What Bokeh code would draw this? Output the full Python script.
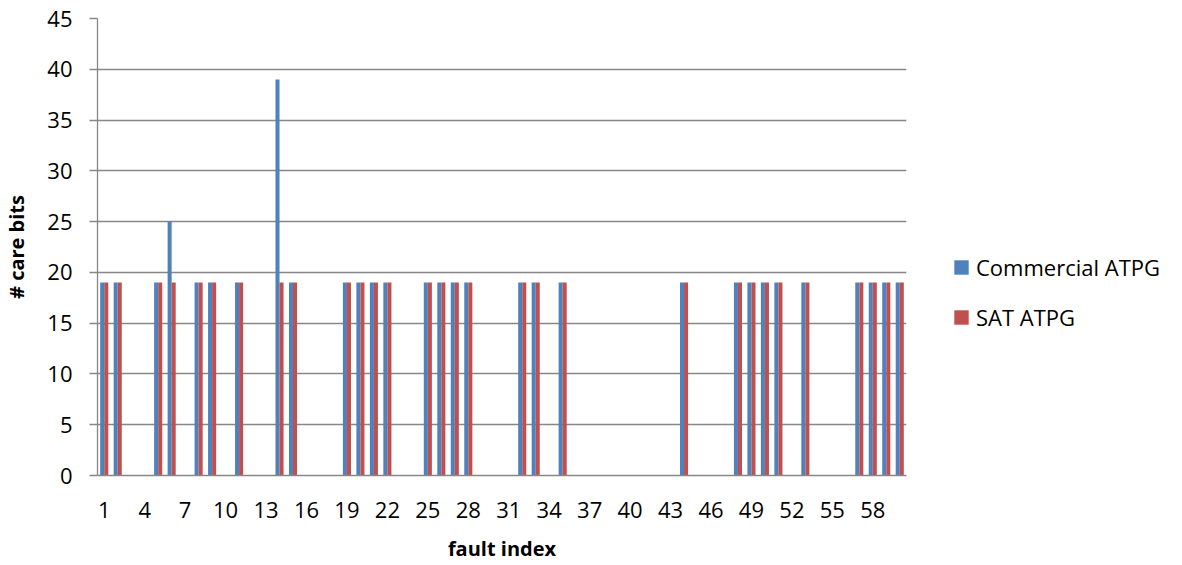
from bokeh.plotting import figure
from bokeh.layouts import row
from bokeh.models import (ColumnDataSource, FixedTicker, Range1d, Legend, LegendItem)
from bokeh.transform import dodge
from bokeh.embed import file_html
from bokeh.resources import INLINE

# number of care bits per fault, fault indices 1..60
fault_index = list(range(1, 61))
commercial_atpg = [19, 19, 0, 0, 19, 25, 0, 19, 19, 0,
                   19, 0, 0, 39, 19, 0, 0, 0, 19, 19,
                   19, 19, 0, 0, 19, 19, 19, 19, 0, 0,
                   0, 19, 19, 0, 19, 0, 0, 0, 0, 0,
                   0, 0, 0, 19, 0, 0, 0, 19, 19, 19,
                   19, 0, 19, 0, 0, 0, 19, 19, 19, 19]
sat_atpg = [19, 19, 0, 0, 19, 19, 0, 19, 19, 0,
            19, 0, 0, 19, 19, 0, 0, 0, 19, 19,
            19, 19, 0, 0, 19, 19, 19, 19, 0, 0,
            0, 19, 19, 0, 19, 0, 0, 0, 0, 0,
            0, 0, 0, 19, 0, 0, 0, 19, 19, 19,
            19, 0, 19, 0, 0, 0, 19, 19, 19, 19]
series_names = ["Commercial ATPG", "SAT ATPG"]
x_ticks = list(range(1, 61, 3))
y_ticks = list(range(0, 46, 5))

FONT = "Open Sans"
BLUE = "#4F81BD"
RED = "#C0504D"
GRID = "#878787"

src = ColumnDataSource(dict(x=fault_index, com=commercial_atpg, sat=sat_atpg))

# main chart
p = figure(width=930, height=565, output_backend="svg", toolbar_location=None,
           x_range=Range1d(0.5, 60.5), y_range=Range1d(0, 45))
p.min_border_left = 95
p.min_border_right = 24
p.min_border_top = 18
p.min_border_bottom = 90
p.outline_line_color = None
p.background_fill_color = "white"
p.border_fill_color = "white"

r_com = p.vbar(x=dodge("x", -0.15, range=p.x_range), top="com", width=0.3,
               bottom=0, source=src, fill_color=BLUE, line_color=None)
r_sat = p.vbar(x=dodge("x", 0.15, range=p.x_range), top="sat", width=0.3,
               bottom=0, source=src, fill_color=RED, line_color=None)

xa = p.xaxis[0]
xa.ticker = FixedTicker(ticks=x_ticks)
xa.axis_label = "fault index"
xa.major_tick_line_color = None
xa.minor_tick_line_color = None
xa.axis_line_color = GRID
xa.axis_line_width = 1.3
xa.major_label_text_font = FONT
xa.major_label_text_font_size = "22px"
xa.major_label_text_color = "black"
xa.major_label_standoff = 20
xa.axis_label_text_font = FONT
xa.axis_label_text_font_style = "bold"
xa.axis_label_text_font_size = "20px"
xa.axis_label_text_color = "black"
xa.axis_label_standoff = 14

ya = p.yaxis[0]
ya.ticker = FixedTicker(ticks=y_ticks)
ya.axis_label = "# care bits"
ya.major_tick_out = 8
ya.major_tick_in = 0
ya.major_tick_line_color = GRID
ya.major_tick_line_width = 1.3
ya.minor_tick_line_color = None
ya.axis_line_color = GRID
ya.axis_line_width = 1.3
ya.major_label_text_font = FONT
ya.major_label_text_font_size = "22px"
ya.major_label_text_color = "black"
ya.major_label_standoff = 17
ya.axis_label_text_font = FONT
ya.axis_label_text_font_style = "bold"
ya.axis_label_text_font_size = "20px"
ya.axis_label_text_color = "black"
ya.axis_label_standoff = 14

p.xgrid.grid_line_color = None
p.ygrid.ticker = FixedTicker(ticks=y_ticks)
p.ygrid.grid_line_color = GRID
p.ygrid.grid_line_width = 1.3

# legend panel to the right of the chart
lg = figure(width=252, height=565, output_backend="svg", toolbar_location=None,
            x_range=Range1d(0, 1), y_range=Range1d(0, 1),
            x_axis_type=None, y_axis_type=None)
lg.min_border = 0
lg.outline_line_color = None
lg.xgrid.grid_line_color = None
lg.ygrid.grid_line_color = None
lg.border_fill_color = "white"
# zero-height keys, only used for the legend swatches
key_src = ColumnDataSource(dict(x=[0.5], top=[0]))
k_com = lg.vbar(x="x", top="top", bottom=0, width=0.1, source=key_src,
                fill_color=BLUE, line_color=None)
k_sat = lg.vbar(x="x", top="top", bottom=0, width=0.1, source=key_src,
                fill_color=RED, line_color=None)

legend = Legend(items=[LegendItem(label=series_names[0], renderers=[k_com]),
                       LegendItem(label=series_names[1], renderers=[k_sat])],
                location=(22, 143), orientation="vertical")
legend.glyph_width = 18
legend.glyph_height = 18
legend.label_standoff = 6
legend.label_text_font = FONT
legend.label_text_font_size = "22px"
legend.label_text_color = "black"
legend.label_height = 18
legend.spacing = 20
legend.padding = 0
legend.margin = 0
legend.border_line_color = None
legend.background_fill_alpha = 0
lg.add_layout(legend, "center")

layout = row(p, lg, spacing=0)
open("out.html", "w").write(file_html(layout, INLINE))
